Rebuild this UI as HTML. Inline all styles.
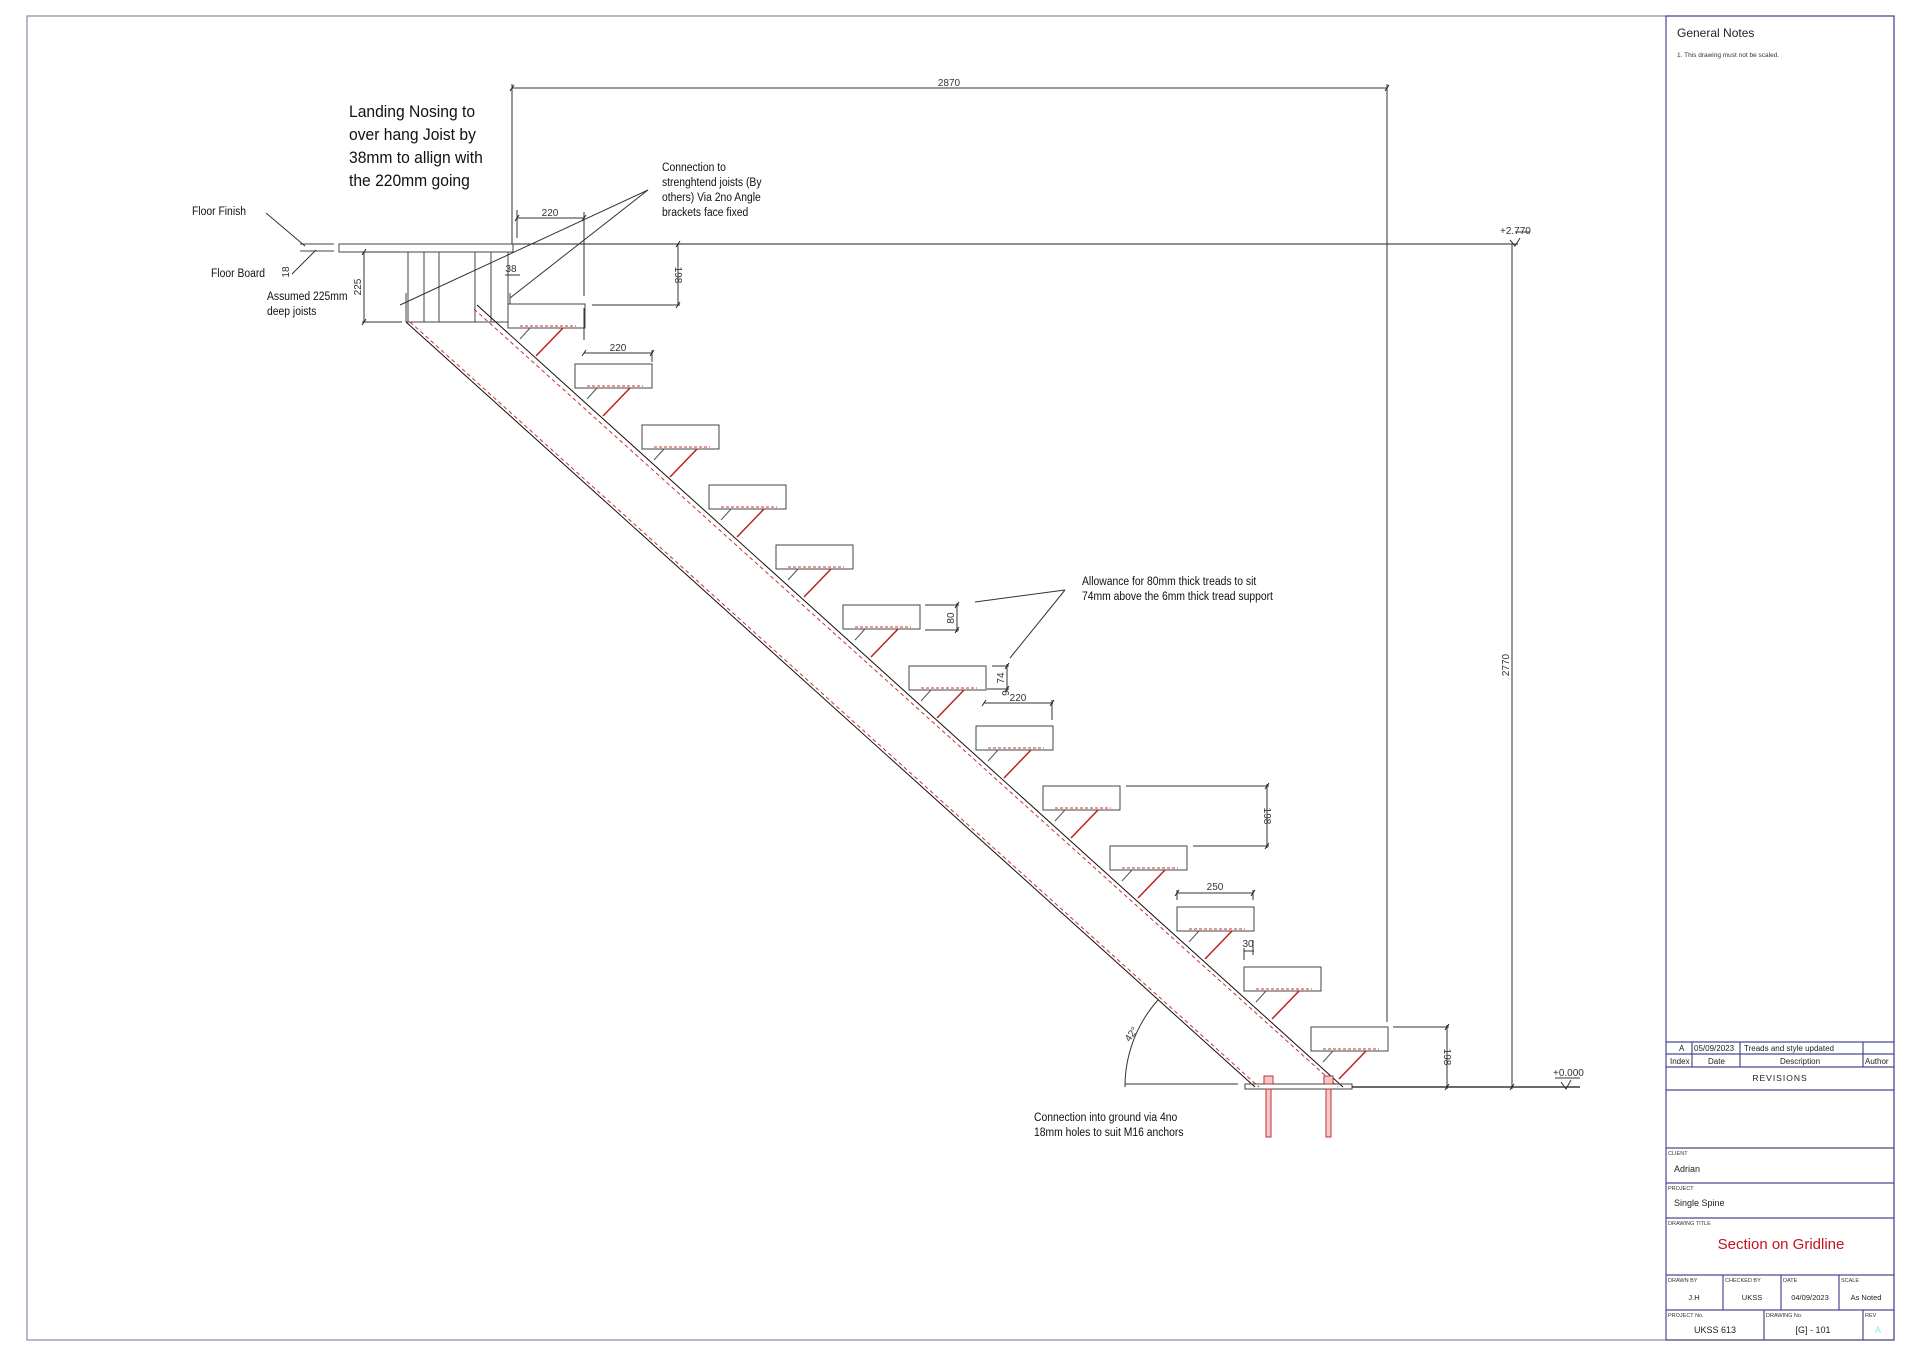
<!DOCTYPE html>
<html><head><meta charset="utf-8"><style>
html,body{margin:0;padding:0;background:#fff;}
svg{display:block;}
text{font-family:"Liberation Sans",sans-serif;}
.d{font-size:10px;fill:#333;}
</style></head><body>
<svg width="1920" height="1356" viewBox="0 0 1920 1356" xmlns="http://www.w3.org/2000/svg">
<defs>
<g id="tr">
<rect x="0" y="0" width="77" height="24" fill="none" stroke="#444" stroke-width="1"/>
<line x1="12" y1="22" x2="68" y2="22" stroke="#c33" stroke-width="1" stroke-dasharray="3,2"/>
<line x1="55" y1="24" x2="28" y2="52" stroke="#b22" stroke-width="1.5"/>
<line x1="22" y1="24" x2="12" y2="35" stroke="#555" stroke-width="1"/>
</g>
</defs>
<rect x="27" y="16" width="1867" height="1324" fill="none" stroke="#8a8aa8" stroke-width="1.2"/>
<g stroke="#4a4a90" stroke-width="1.2" fill="none">
<rect x="1666" y="16" width="228" height="1324"/>
<line x1="1666" y1="1042" x2="1894" y2="1042"/>
<line x1="1666" y1="1054" x2="1894" y2="1054"/>
<line x1="1666" y1="1067" x2="1894" y2="1067"/>
<line x1="1666" y1="1090" x2="1894" y2="1090"/>
<line x1="1666" y1="1148" x2="1894" y2="1148"/>
<line x1="1666" y1="1183" x2="1894" y2="1183"/>
<line x1="1666" y1="1218" x2="1894" y2="1218"/>
<line x1="1666" y1="1275" x2="1894" y2="1275"/>
<line x1="1666" y1="1310" x2="1894" y2="1310"/>
<line x1="1692" y1="1042" x2="1692" y2="1067"/>
<line x1="1740" y1="1042" x2="1740" y2="1067"/>
<line x1="1863" y1="1042" x2="1863" y2="1067"/>
<line x1="1723" y1="1275" x2="1723" y2="1310"/>
<line x1="1781" y1="1275" x2="1781" y2="1310"/>
<line x1="1839" y1="1275" x2="1839" y2="1310"/>
<line x1="1764" y1="1310" x2="1764" y2="1340"/>
<line x1="1863" y1="1310" x2="1863" y2="1340"/>
</g>
<text x="1677" y="37" font-size="12" fill="#222">General Notes</text>
<text x="1677" y="57" font-size="6.5" fill="#333">1.  This drawing must not be scaled.</text>
<g font-size="8" fill="#222">
<text x="1679" y="1051">A</text>
<text x="1694" y="1051">05/09/2023</text>
<text x="1744" y="1051">Treads and style updated</text>
<text x="1670" y="1064">Index</text>
<text x="1708" y="1064">Date</text>
<text x="1780" y="1064">Description</text>
<text x="1865" y="1064">Author</text>
</g>
<text x="1780" y="1081" font-size="8.5" fill="#222" text-anchor="middle" font-family="Liberation Mono" letter-spacing="1">REVISIONS</text>
<g font-size="5.5" fill="#333">
<text x="1668" y="1155">CLIENT</text>
<text x="1668" y="1190">PROJECT</text>
<text x="1668" y="1225">DRAWING TITLE</text>
<text x="1668" y="1282">DRAWN BY</text>
<text x="1725" y="1282">CHECKED BY</text>
<text x="1783" y="1282">DATE</text>
<text x="1841" y="1282">SCALE</text>
<text x="1668" y="1317">PROJECT No.</text>
<text x="1766" y="1317">DRAWING No.</text>
<text x="1865" y="1317">REV</text>
</g>
<text x="1674" y="1172" font-size="9" fill="#222">Adrian</text>
<text x="1674" y="1206" font-size="9" fill="#222">Single Spine</text>
<text x="1781" y="1249" font-size="15" fill="#c0141e" text-anchor="middle">Section on Gridline</text>
<g font-size="7.5" fill="#222" text-anchor="middle">
<text x="1694" y="1300">J.H</text>
<text x="1752" y="1300">UKSS</text>
<text x="1810" y="1300">04/09/2023</text>
<text x="1866" y="1300">As Noted</text>
</g>
<text x="1715" y="1333" font-size="9" fill="#222" text-anchor="middle">UKSS 613</text>
<text x="1813" y="1333" font-size="9" fill="#222" text-anchor="middle">[G] -  101</text>
<text x="1878" y="1333" font-size="9" fill="#8ee" text-anchor="middle">A</text>

<g stroke="#444" stroke-width="1" fill="none">
<line x1="513" y1="244" x2="1518" y2="244" stroke="#222"/>
<rect x="339" y="244" width="174" height="8"/>
<line x1="300" y1="244" x2="334" y2="244"/>
<line x1="300" y1="251" x2="334" y2="251"/>
<line x1="408" y1="252" x2="408" y2="322"/><line x1="424" y1="252" x2="424" y2="322"/><line x1="439" y1="252" x2="439" y2="322"/>
<line x1="475" y1="252" x2="475" y2="322"/><line x1="491" y1="252" x2="491" y2="322"/><line x1="508" y1="252" x2="508" y2="322"/>
<line x1="406" y1="293" x2="406" y2="322"/><line x1="406" y1="322" x2="508" y2="322"/>
<line x1="510" y1="293" x2="510" y2="304"/>
<line x1="406" y1="322" x2="1255" y2="1087" stroke="#111"/>
<line x1="477" y1="305" x2="1343" y2="1087" stroke="#111"/>
</g>
<line x1="410" y1="322" x2="1259" y2="1087" stroke="#c33" stroke-dasharray="4,3" stroke-width="1"/>
<line x1="474" y1="309" x2="1338" y2="1087" stroke="#c33" stroke-dasharray="4,3" stroke-width="1"/>
<use href="#tr" x="508" y="304"/><use href="#tr" x="575" y="364"/><use href="#tr" x="642" y="425"/>
<use href="#tr" x="709" y="485"/><use href="#tr" x="776" y="545"/><use href="#tr" x="843" y="605"/>
<use href="#tr" x="909" y="666"/><use href="#tr" x="976" y="726"/><use href="#tr" x="1043" y="786"/>
<use href="#tr" x="1110" y="846"/><use href="#tr" x="1177" y="907"/><use href="#tr" x="1244" y="967"/>
<use href="#tr" x="1311" y="1027"/>
<rect x="1245" y="1084" width="107" height="5" fill="none" stroke="#444"/>
<g fill="#f4c8c8" stroke="#b33" stroke-width="1">
<rect x="1266" y="1089" width="5" height="48"/><rect x="1326" y="1089" width="5" height="48"/>
<rect x="1264" y="1076" width="9" height="8"/><rect x="1324" y="1076" width="9" height="8"/>
</g>
<g stroke="#333" stroke-width="1" fill="none">
<line x1="1125" y1="1084" x2="1238" y2="1084"/>
<line x1="1352" y1="1087" x2="1580" y2="1087" stroke="#111" stroke-width="1.3"/>
<path d="M1125,1087 A130,130 0 0 1 1158,1000"/>
<line x1="512" y1="88" x2="1387" y2="88"/>
<line x1="512" y1="84" x2="512" y2="244"/>
<line x1="1387" y1="84" x2="1387" y2="1022"/>
<line x1="517" y1="218" x2="584" y2="218"/>
<line x1="517" y1="210" x2="517" y2="238"/>
<line x1="584" y1="212" x2="584" y2="296"/>
<line x1="584" y1="308" x2="584" y2="340"/>
<line x1="505" y1="275" x2="520" y2="275"/>
<line x1="364" y1="252" x2="364" y2="322"/>
<line x1="362" y1="322" x2="402" y2="322"/>
<line x1="362" y1="252" x2="400" y2="252"/>
<line x1="678" y1="244" x2="678" y2="305"/>
<line x1="592" y1="305" x2="680" y2="305"/>
<line x1="584" y1="353" x2="652" y2="353"/>
<line x1="652" y1="350" x2="652" y2="362"/>
<line x1="925" y1="605" x2="959" y2="605"/><line x1="925" y1="630" x2="959" y2="630"/>
<line x1="957" y1="603" x2="957" y2="632"/>
<line x1="992" y1="666" x2="1009" y2="666"/><line x1="987" y1="689" x2="1009" y2="689"/>
<line x1="1007" y1="664" x2="1007" y2="691"/>
<line x1="984" y1="703" x2="1053" y2="703"/><line x1="1052" y1="700" x2="1052" y2="720"/>
<line x1="1126" y1="786" x2="1269" y2="786"/><line x1="1193" y1="846" x2="1269" y2="846"/>
<line x1="1267" y1="784" x2="1267" y2="848"/>
<line x1="1177" y1="893" x2="1253" y2="893"/><line x1="1177" y1="890" x2="1177" y2="900"/><line x1="1253" y1="890" x2="1253" y2="900"/>
<line x1="1244" y1="951" x2="1254" y2="951"/><line x1="1244" y1="948" x2="1244" y2="960"/><line x1="1253" y1="940" x2="1253" y2="955"/>
<line x1="1393" y1="1027" x2="1449" y2="1027"/><line x1="1447" y1="1025" x2="1447" y2="1089"/>
<line x1="1512" y1="244" x2="1512" y2="1089"/>
<line x1="266" y1="213" x2="305" y2="246"/>
<line x1="292" y1="274" x2="316" y2="250"/>
<line x1="648" y1="190" x2="400" y2="305"/>
<line x1="648" y1="190" x2="510" y2="298"/>
<line x1="1065" y1="590" x2="975" y2="602"/>
<line x1="1065" y1="590" x2="1010" y2="658"/>
<path d="M1510,240 L1515,246 L1520,238 M1515,232 L1530,232"/>
<path d="M1561,1082 L1566,1089 L1571,1080 M1555,1078 L1580,1078"/>
</g>
<g stroke="#222" stroke-width="1">
<line x1="510" y1="91" x2="514" y2="85"/><line x1="1385" y1="91" x2="1389" y2="85"/>
<line x1="515" y1="221" x2="519" y2="215"/><line x1="582" y1="221" x2="586" y2="215"/>
<line x1="676" y1="247" x2="680" y2="241"/><line x1="676" y1="308" x2="680" y2="302"/>
<line x1="362" y1="255" x2="366" y2="249"/><line x1="362" y1="325" x2="366" y2="319"/>
<line x1="582" y1="356" x2="586" y2="350"/><line x1="650" y1="356" x2="654" y2="350"/>
<line x1="955" y1="608" x2="959" y2="602"/><line x1="955" y1="633" x2="959" y2="627"/>
<line x1="1005" y1="669" x2="1009" y2="663"/><line x1="1005" y1="692" x2="1009" y2="686"/>
<line x1="982" y1="706" x2="986" y2="700"/><line x1="1050" y1="706" x2="1054" y2="700"/>
<line x1="1265" y1="789" x2="1269" y2="783"/><line x1="1265" y1="849" x2="1269" y2="843"/>
<line x1="1175" y1="896" x2="1179" y2="890"/><line x1="1251" y1="896" x2="1255" y2="890"/>
<line x1="1445" y1="1030" x2="1449" y2="1024"/><line x1="1445" y1="1090" x2="1449" y2="1084"/>
<line x1="1510" y1="1090" x2="1514" y2="1084"/>
</g>
<g class="d">
<text x="949" y="86" text-anchor="middle">2870</text>
<text x="550" y="216" text-anchor="middle">220</text>
<text x="618" y="351" text-anchor="middle">220</text>
<text x="1018" y="701" text-anchor="middle">220</text>
<text x="1215" y="890" text-anchor="middle">250</text>
<text x="1248" y="947" text-anchor="middle">30</text>
<text x="511" y="272" text-anchor="middle">38</text>
<text transform="translate(361,287) rotate(-90)" text-anchor="middle">225</text>
<text transform="translate(675,275) rotate(90)" text-anchor="middle">198</text>
<text transform="translate(954,618) rotate(-90)" text-anchor="middle">80</text>
<text transform="translate(1004,678) rotate(-90)" text-anchor="middle">74</text>
<text transform="translate(1002,693) rotate(90)" text-anchor="middle">6</text>
<text transform="translate(1264,816) rotate(90)" text-anchor="middle">198</text>
<text transform="translate(1444,1057) rotate(90)" text-anchor="middle">198</text>
<text transform="translate(1509,665) rotate(-90)" text-anchor="middle">2770</text>
<text transform="translate(289,272) rotate(-90)" text-anchor="middle">18</text>
<text transform="translate(1134,1036) rotate(-55)" text-anchor="middle">42°</text>
<text x="1500" y="234">+2.770</text>
<text x="1553" y="1076">+0.000</text>
</g>
<g fill="#111">
<g transform="translate(349,0) scale(0.92,1) translate(-349,0)" font-size="17">
<text x="349" y="117">Landing Nosing to</text>
<text x="349" y="140">over hang Joist by</text>
<text x="349" y="163">38mm to allign with</text>
<text x="349" y="186">the 220mm going</text>
</g>
<g font-size="11.5">
<g transform="translate(662,0) scale(0.9,1) translate(-662,0)">
<text x="662" y="171">Connection to</text>
<text x="662" y="186">strenghtend joists (By</text>
<text x="662" y="201">others) Via 2no Angle</text>
<text x="662" y="216">brackets face fixed</text>
</g>
<g transform="translate(192,0) scale(0.9,1) translate(-192,0)"><text x="192" y="215">Floor Finish</text></g>
<g transform="translate(211,0) scale(0.9,1) translate(-211,0)"><text x="211" y="277">Floor Board</text></g>
<g transform="translate(267,0) scale(0.9,1) translate(-267,0)">
<text x="267" y="300">Assumed 225mm</text>
<text x="267" y="315">deep joists</text>
</g>
<g transform="translate(1082,0) scale(0.9,1) translate(-1082,0)">
<text x="1082" y="585">Allowance for 80mm thick treads to sit</text>
<text x="1082" y="600">74mm above the 6mm thick tread support</text>
</g>
<g transform="translate(1034,0) scale(0.9,1) translate(-1034,0)">
<text x="1034" y="1121">Connection into ground via 4no</text>
<text x="1034" y="1136">18mm holes to suit M16 anchors</text>
</g>
</g>
</g>
</svg>
</body></html>
